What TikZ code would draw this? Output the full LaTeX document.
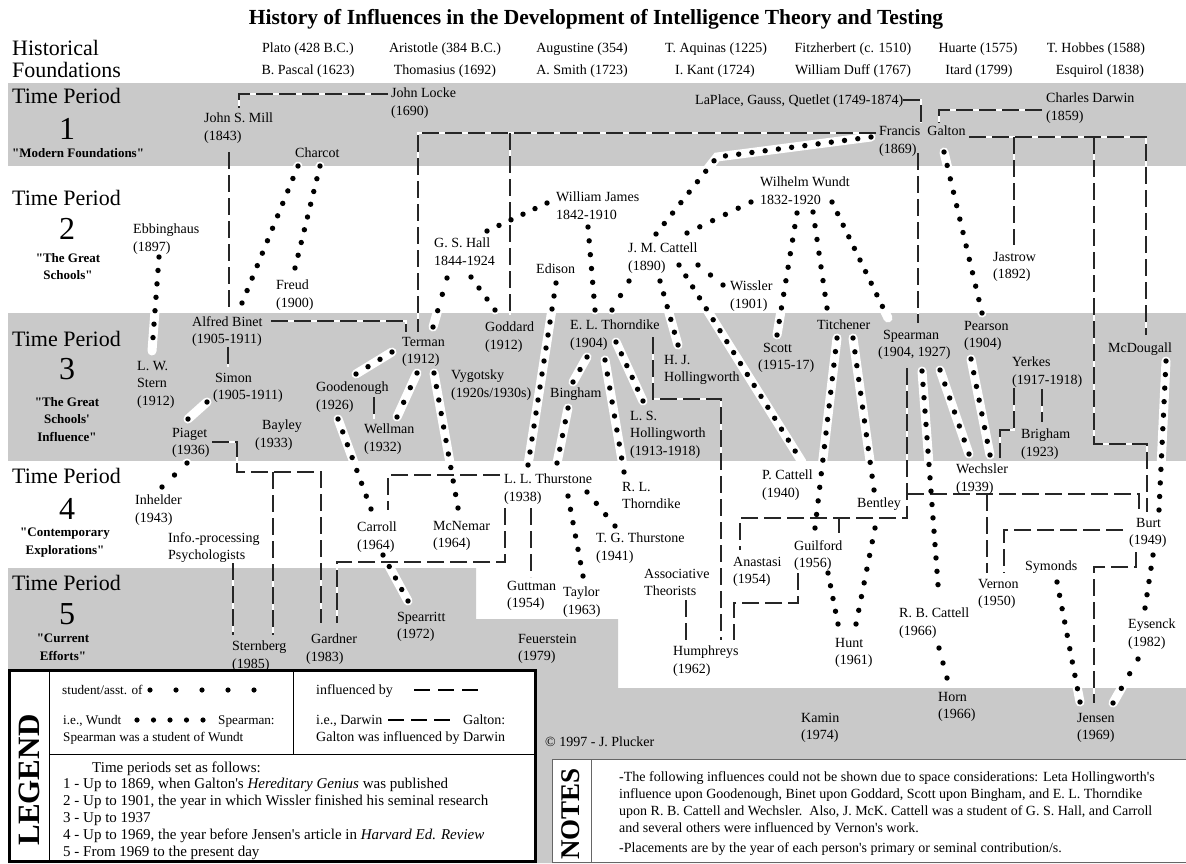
\documentclass[tikz,border=0pt]{standalone}
\usepackage{fontspec}
\setmainfont{Liberation Serif}
\usetikzlibrary{decorations}
\newcommand\sq{\textquotesingle}
\newcommand\dq{\textquotedbl}
\definecolor{bandgray}{RGB}{201,201,201}
\begin{document}
\begin{tikzpicture}[x=1pt,y=-1pt,
  person/.style={anchor=north west, inner sep=0pt, align=left, font=\fontsize{14}{17.5}\selectfont},
  plain/.style={anchor=base west, inner sep=0pt, font=\fontsize{14}{17}\selectfont},
  legsmall/.style={anchor=base west, inner sep=0pt, font=\fontsize{13.2}{17}\selectfont},
  legbig/.style={anchor=base west, inner sep=0pt, font=\fontsize{15}{17}\selectfont},
  fnd/.style={anchor=base, inner sep=0pt, font=\fontsize{14}{17}\selectfont},
  tp/.style={anchor=base west, inner sep=0pt, font=\fontsize{22}{22}\selectfont},
  tpnum/.style={anchor=base, inner sep=0pt, font=\fontsize{32}{32}\selectfont},
  tpsub/.style={anchor=north, inner sep=0pt, align=center, font=\bfseries\fontsize{13}{17.5}\selectfont},
  halo/.style={white, line width=9pt, line cap=round},
  stud/.style={black, line width=5.4pt, line cap=round, dash pattern=on 0pt off 12.8pt, dash expand off},
  inflhalo/.style={white, line width=2pt},
  infl/.style={black!85, line width=1.8pt, dash pattern=on 17pt off 6pt},
  legdot/.style={black},
  legdash/.style={black, line width=1.5pt},
]
\useasboundingbox (0,0) rectangle (1186,863);
\fill[white] (0,0) rectangle (1186,863);
% bands
\fill[bandgray] (8,83) rectangle (1186,166);
\fill[bandgray] (8,313) rectangle (1186,461);
\fill[bandgray] (8,568) -- (476,568) -- (476,619) -- (618,619) -- (618,688) -- (1186,688) -- (1186,863) -- (8,863) -- cycle;

% legend box
\draw[line width=3pt, fill=white] (9.5,670) rectangle (535,861.5);
\draw[line width=0.8pt] (49,670) -- (49,860) (49,754) -- (534,754) (293,670) -- (293,754);
\node[rotate=90, inner sep=0pt, font=\bfseries\fontsize{31}{31}\selectfont] (legend) at (29,780) {LEGEND};
\node[legsmall] (leg1) at (62,694) {student/asst. of};
\foreach \x in {150,176,202,228,254} \fill[legdot] (\x,690) circle (2.6);
\node[legsmall] (leg2) at (63,724) {i.e., Wundt};
\foreach \x in {137,153.5,170,186.5,203} \fill[legdot] (\x,720) circle (2.6);
\node[legsmall] (leg3) at (218,724) {Spearman:};
\node[legsmall] (leg4) at (63,741) {Spearman was a student of Wundt};
\node[plain] (leg5) at (316,694) {influenced by};
\foreach \x in {414,438,462} \draw[legdash] (\x,690) -- ++(16,0);
\node[plain] (leg6) at (316,724) {i.e., Darwin};
\foreach \x in {388,411,434} \draw[legdash] (\x,720) -- ++(16,0);
\node[plain] (leg7) at (463,724) {Galton:};
\node[plain] (leg8) at (316,741) {Galton was influenced by Darwin};
\node[legbig] (tps0) at (92,772) {Time periods set as follows:};
\node[legbig] (tps1) at (63,788) {1 - Up to 1869, when Galton\sq s \textit{Hereditary Genius} was published};
\node[legbig] (tps2) at (63,805) {2 - Up to 1901, the year in which Wissler finished his seminal research};
\node[legbig] (tps3) at (63,822) {3 - Up to 1937};
\node[legbig] (tps4) at (63,839) {4 - Up to 1969, the year before Jensen\sq s article in \textit{Harvard Ed. Review}};
\node[legbig] (tps5) at (63,856) {5 - From 1969 to the present day};

% notes box
\draw[black!60, line width=1pt, fill=white] (552,759) rectangle (1190,862);
\draw[black!60, line width=1pt] (591,759) -- (591,862);
\node[rotate=90, inner sep=0pt, font=\bfseries\fontsize{27}{27}\selectfont] (notes) at (571,814) {NOTES};
\node[plain] (n1) at (619,781) {-The following influences could not be shown due to space considerations: Leta Hollingworth\sq s};
\node[plain] (n2) at (619,798) {influence upon Goodenough, Binet upon Goddard, Scott upon Bingham, and E. L. Thorndike};
\node[plain] (n3) at (619,815) {upon R. B. Cattell and Wechsler.\ \ Also, J. McK. Cattell was a student of G. S. Hall, and Carroll};
\node[plain] (n4) at (619,832) {and several others were influenced by Vernon\sq s work.};
\node[plain] (n5) at (619,852) {-Placements are by the year of each person\sq s primary or seminal contribution/s.};

% connectors
\def\studlist{%
{(298,166)--(242,303)},%
{(320,166)--(295,268)},%
{(159,257)--(152,351)},%
{(207,402)--(188,419)},%
{(187,463)--(162,487)},%
{(447,278)--(433,327)},%
{(471,277)--(495,310)},%
{(547,203)--(487,231)},%
{(588,227)--(595,310)},%
{(556,283)--(528,465)},%
{(568,408)--(557,463)},%
{(587,357)--(573,382)},%
{(605,360)--(624,472)},%
{(616,342)--(643,401)},%
{(587,492)--(615,526)},%
{(568,496)--(583,576)},%
{(392,352)--(356,374)},%
{(417,373)--(397,417)},%
{(434,373)--(458,508)},%
{(338,419)--(371,509)},%
{(383,555)--(408,601)},%
{(751,202)--(687,233)},%
{(797,213)--(777,335)},%
{(813,212)--(827,308)},%
{(832,202)--(888,318)},%
{(837,338)--(815,528)},%
{(853,338)--(874,490)},%
{(828,573)--(838,624)},%
{(875,528)--(856,624)},%
{(629,281)--(612,310)},%
{(660,281)--(678,345)},%
{(679,265)--(802,462)},%
{(698,265)--(723,285)},%
{(871,137)--(717,157)--(656,234)},%
{(944,152)--(982,313)},%
{(940,370)--(969,454)},%
{(971,359)--(990,455)},%
{(922,371)--(939,598)},%
{(939,648)--(947,678)},%
{(1166,361)--(1159,510)},%
{(1153,555)--(1145,608)},%
{(1138,659)--(1113,703)},%
{(1057,582)--(1080,702)}}
\def\infllist{%
{(388,94)--(239,94)--(239,108)},%
{(229,152)--(229,308)},%
{(271,321)--(406,321)--(406,332)},%
{(876,133)--(418,133)--(418,332)},%
{(510,133)--(510,315)},%
{(903,100)--(921,100)--(921,123)},%
{(1042,110)--(939,110)--(939,123)},%
{(969,137)--(1146,137)--(1146,335)},%
{(1014,137)--(1014,245)},%
{(1094,137)--(1094,444)--(1147,444)--(1147,512)},%
{(918,153)--(918,323)},%
{(907,368)--(907,518)--(740,518)--(740,550)},%
{(839,518)--(839,533)},%
{(907,494)--(1139,494)--(1139,511)},%
{(987,494)--(987,573)},%
{(1123,530)--(1004,530)--(1004,573)},%
{(1136,552)--(1136,567)--(1094,567)--(1094,703)},%
{(798,573)--(798,603)--(734,603)--(734,640)},%
{(686,600)--(686,640)},%
{(653,337)--(653,399)--(721,399)--(721,640)},%
{(531,508)--(531,577)},%
{(505,508)--(505,562)--(337,562)--(337,623)},%
{(500,475)--(388,475)--(388,510)},%
{(212,442)--(237,442)--(237,472)--(321,472)--(321,623)},%
{(273,472)--(273,635)},%
{(233,563)--(233,635)},%
{(374,397)--(374,419)},%
{(228,347)--(228,367)},%
{(1014,388)--(1014,430)--(1000,430)--(1000,458)},%
{(1042,389)--(1042,422)}}
\foreach \p in \studlist {\draw[halo] \p;}
\foreach \p in \infllist {\draw[inflhalo] \p;}
\foreach \p in \infllist {\draw[infl] \p;}
\foreach \p in \studlist {\draw[stud] \p;}

% title and header
\node[anchor=base, inner sep=0pt, font=\bfseries\fontsize{21.5}{24}\selectfont] (title) at (596,24) {History of Influences in the Development of Intelligence Theory and Testing};
\node[tp] (hist1) at (12,55) {Historical};
\node[tp] (hist2) at (12,77) {Foundations};
\node[fnd] (f1) at (308,52.7) {Plato (428 B.C.)};
\node[fnd] (f2) at (445,52.7) {Aristotle (384 B.C.)};
\node[fnd] (f3) at (582,52.7) {Augustine (354)};
\node[fnd] (f4) at (716,52.7) {T. Aquinas (1225)};
\node[fnd] (f5) at (853,52.7) {Fitzherbert (c. 1510)};
\node[fnd] (f6) at (978,52.7) {Huarte (1575)};
\node[fnd] (f7) at (1096,52.7) {T. Hobbes (1588)};
\node[fnd] (g1) at (308,74.7) {B. Pascal (1623)};
\node[fnd] (g2) at (445,74.7) {Thomasius (1692)};
\node[fnd] (g3) at (582,74.7) {A. Smith (1723)};
\node[fnd] (g4) at (715,74.7) {I. Kant (1724)};
\node[fnd] (g5) at (853,74.7) {William Duff (1767)};
\node[fnd] (g6) at (979,74.7) {Itard (1799)};
\node[fnd] (g7) at (1100,74.7) {Esquirol (1838)};

% time period labels
\node[tp] (tp1) at (12,103) {Time Period};
\node[tpnum] (tn1) at (67,139) {1};
\node[anchor=base west, inner sep=0pt, font=\bfseries\fontsize{13}{17}\selectfont] (ts1) at (12,157.5) {\dq Modern Foundations\dq};
\node[tp] (tp2) at (12,205) {Time Period};
\node[tpnum] (tn2) at (67,239) {2};
\node[tpsub] (ts2) at (68,253) {\dq The Great\\Schools\dq};
\node[tp] (tp3) at (12,346) {Time Period};
\node[tpnum] (tn3) at (67,379) {3};
\node[tpsub] (ts3) at (67,397) {\dq The Great\\Schools\sq\\Influence\dq};
\node[tp] (tp4) at (12,483) {Time Period};
\node[tpnum] (tn4) at (67,519) {4};
\node[tpsub] (ts4) at (65,528) {\dq Contemporary\\Explorations\dq};
\node[tp] (tp5) at (12,590) {Time Period};
\node[tpnum] (tn5) at (67,624) {5};
\node[tpsub] (ts5) at (63,634) {\dq Current\\Efforts\dq};

% people
\node[person] (mill) at (204,113) {John S. Mill\\(1843)};
\node[person] (locke) at (391,88) {John Locke\\(1690)};
\node[person] (laplace) at (695,95) {LaPlace, Gauss, Quetlet (1749-1874)};
\node[person] (darwin) at (1046,93) {Charles Darwin\\(1859)};
\node[person] (galton) at (879,126) {Francis\hspace{7pt}Galton\\(1869)};
\node[person] (charcot) at (295,148) {Charcot};
\node[person] (ebbinghaus) at (133,224) {Ebbinghaus\\(1897)};
\node[person] (freud) at (276,280) {Freud\\(1900)};
\node[person] (hall) at (434,238) {G. S. Hall\\1844-1924};
\node[person] (james) at (556,192) {William James\\1842-1910};
\node[person] (edison) at (536,264) {Edison};
\node[person] (wundt) at (760,177) {Wilhelm Wundt\\1832-1920};
\node[person] (jmcattell) at (628,243) {J. M. Cattell\\(1890)};
\node[person] (wissler) at (730,281) {Wissler\\(1901)};
\node[person] (jastrow) at (993,252) {Jastrow\\(1892)};
\node[person] (binet) at (192,316) {Alfred Binet\\(1905-1911)};
\node[person] (stern) at (137,361) {L. W.\\Stern\\(1912)};
\node[person] (simon) at (213,373) {\hspace*{2pt}Simon\\(1905-1911)};
\node[person] (piaget) at (172,428) {Piaget\\(1936)};
\node[person] (bayley) at (255,420) {\hspace*{7pt}Bayley\\(1933)};
\node[person] (terman) at (402,337) {Terman\\(1912)};
\node[person] (goddard) at (485,322) {Goddard\\(1912)};
\node[person] (goodenough) at (316,382) {Goodenough\\(1926)};
\node[person] (wellman) at (364,424) {Wellman\\(1932)};
\node[person] (vygotsky) at (451,370) {Vygotsky\\(1920s/1930s)};
\node[person] (elthorndike) at (570,320) {E. L. Thorndike\\(1904)};
\node[person] (bingham) at (550,388) {Bingham};
\node[person] (hjh) at (664,355) {H. J.\\Hollingworth};
\node[person] (lsh) at (630,411) {L. S.\\Hollingworth\\(1913-1918)};
\node[person] (scott) at (758,343) {\hspace*{5pt}Scott\\(1915-17)};
\node[person] (titchener) at (817,320) {Titchener};
\node[person] (spearman) at (878,330) {\hspace*{5pt}Spearman\\(1904, 1927)};
\node[person] (pearson) at (964,321) {Pearson\\(1904)};
\node[person] (yerkes) at (1012,357) {Yerkes\\(1917-1918)};
\node[person] (brigham) at (1021,429) {Brigham\\(1923)};
\node[person] (mcdougall) at (1108,343) {McDougall};
\node[person] (inhelder) at (135,495) {Inhelder\\(1943)};
\node[person] (infoproc) at (168,532) {Info.-processing\\Psychologists};
\node[person] (carroll) at (357,522) {Carroll\\(1964)};
\node[person] (mcnemar) at (433,521) {McNemar\\(1964)};
\node[person] (llthurstone) at (504,474) {L. L. Thurstone\\(1938)};
\node[person] (rlthorndike) at (622,482) {R. L.\\Thorndike};
\node[person] (tgthurstone) at (596,533) {T. G. Thurstone\\(1941)};
\node[person] (pcattell) at (762,470) {P. Cattell\\(1940)};
\node[person] (bentley) at (857,498) {Bentley};
\node[person] (wechsler) at (956,464) {Wechsler\\(1939)};
\node[person] (burt) at (1129,518) {\hspace*{7pt}Burt\\(1949)};
\node[person] (anastasi) at (733,557) {Anastasi\\(1954)};
\node[person] (guilford) at (794,540) {Guilford\\(1956)};
\node[person] (guttman) at (507,581) {Guttman\\(1954)};
\node[person] (taylor) at (563,587) {Taylor\\(1963)};
\node[person] (assoc) at (644,569) {Associative\\Theorists};
\node[person] (vernon) at (978,579) {Vernon\\(1950)};
\node[person] (symonds) at (1025,561) {Symonds};
\node[person] (rbcattell) at (899,608) {R. B. Cattell\\(1966)};
\node[person] (eysenck) at (1128,619) {Eysenck\\(1982)};
\node[person] (hunt) at (835,638) {Hunt\\(1961)};
\node[person] (spearritt) at (397,612) {Spearritt\\(1972)};
\node[person] (gardner) at (306,634) {\hspace*{5pt}Gardner\\(1983)};
\node[person] (sternberg) at (232,641) {Sternberg\\(1985)};
\node[person] (feuerstein) at (518,634) {Feuerstein\\(1979)};
\node[person] (humphreys) at (673,646) {Humphreys\\(1962)};
\node[person] (kamin) at (801,713) {Kamin\\(1974)};
\node[person] (horn) at (938,692) {Horn\\(1966)};
\node[person] (jensen) at (1077,713) {Jensen\\(1969)};
\node[person] (copy) at (545,737) {© 1997 - J. Plucker};
\end{tikzpicture}
\end{document}
